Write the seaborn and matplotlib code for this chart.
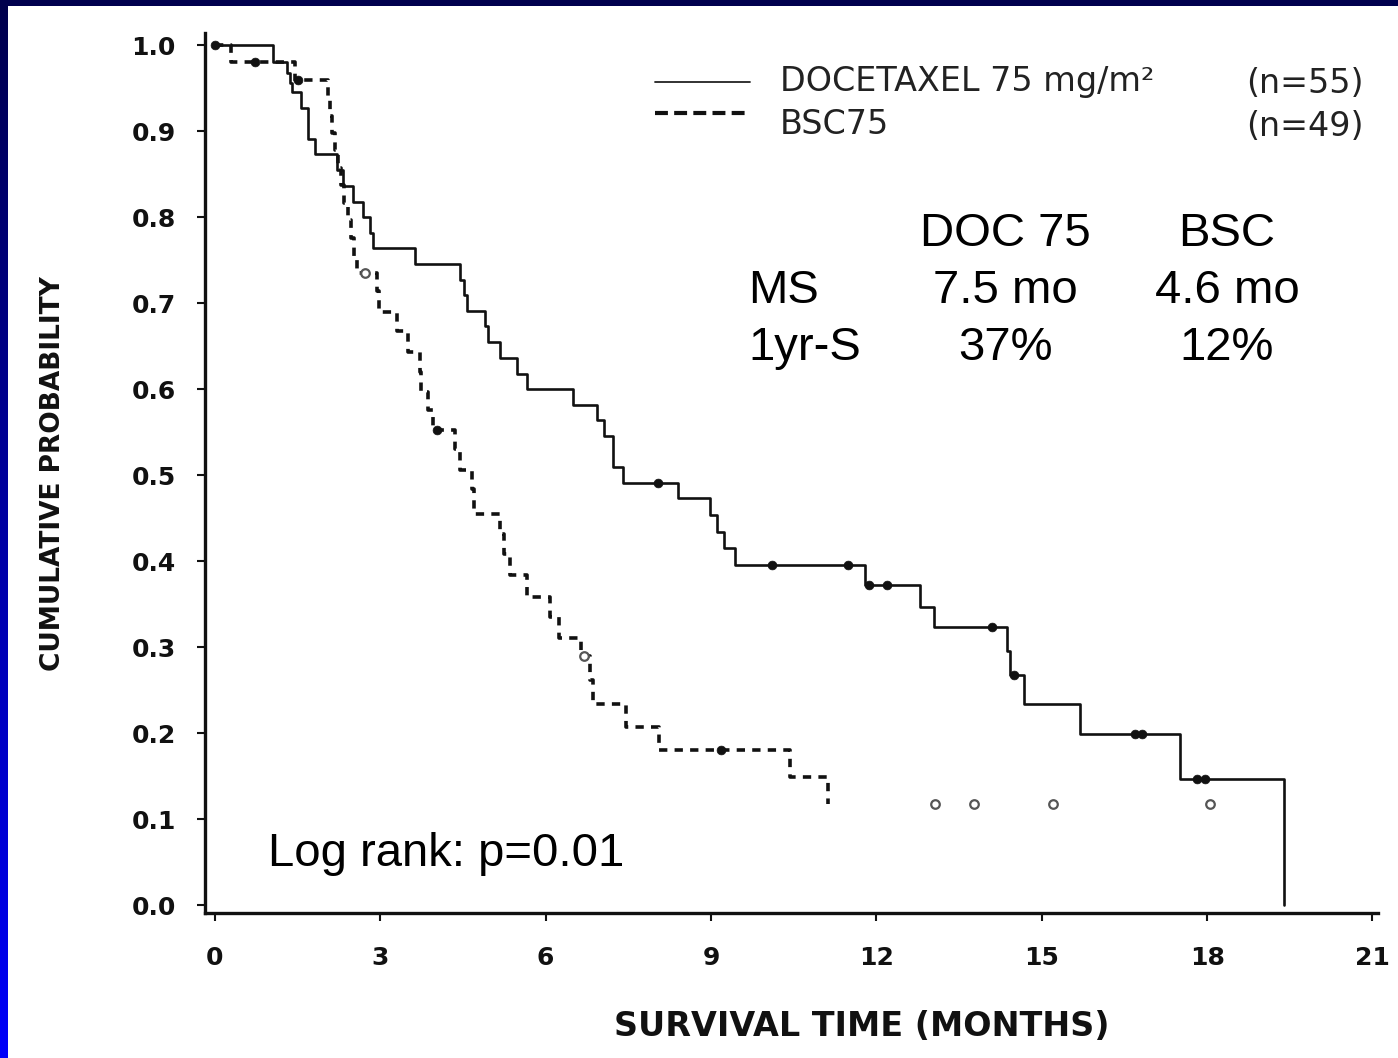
import numpy as np
import pandas as pd
import matplotlib
matplotlib.use("Agg")
import matplotlib.pyplot as plt
from matplotlib.lines import Line2D
from matplotlib.patches import Rectangle
import seaborn as sns

# ---------------- data ----------------
doc_time = [0, 1.06, 1.30, 1.36, 1.39, 1.57, 1.69, 1.81, 2.21, 2.33, 2.51, 2.69, 2.81, 2.87,
            3.63, 4.45, 4.51, 4.57, 4.90, 4.96, 5.17, 5.48, 5.66, 6.50, 6.93, 7.05, 7.23, 7.41,
            8.41, 8.98, 9.11, 9.23, 9.44, 11.80, 12.79, 13.04, 14.37, 14.43, 14.67, 15.70,
            17.51, 19.39]
doc_surv = [1.0, 0.980, 0.967, 0.956, 0.945, 0.927, 0.891, 0.873, 0.855, 0.836, 0.818, 0.800,
            0.782, 0.764, 0.745, 0.727, 0.709, 0.691, 0.673, 0.655, 0.636, 0.618, 0.600, 0.582,
            0.564, 0.545, 0.509, 0.491, 0.473, 0.453, 0.434, 0.415, 0.395, 0.372, 0.347, 0.323,
            0.295, 0.267, 0.234, 0.199, 0.147, 0.0]
doc_cens_time = [0.0, 8.04, 10.10, 11.49, 11.86, 12.19, 14.10, 14.49, 16.70, 16.82, 17.82, 17.97]
doc_cens_surv = [1.0, 0.491, 0.395, 0.395, 0.372, 0.372, 0.323, 0.267, 0.199, 0.199, 0.147, 0.147]

bsc_time = [0, 0.30, 1.45, 2.05, 2.09, 2.13, 2.18, 2.23, 2.29, 2.35, 2.41, 2.47, 2.53, 2.58,
            2.94, 2.98, 3.30, 3.51, 3.72, 3.74, 3.87, 3.96, 4.36, 4.45, 4.66, 4.70, 5.17, 5.24,
            5.35, 5.66, 6.08, 6.25, 6.65, 6.80, 6.85, 7.45, 8.05, 10.44, 11.13]
bsc_surv = [1.0, 0.980, 0.959, 0.939, 0.918, 0.898, 0.878, 0.857, 0.837, 0.816, 0.796, 0.776,
            0.755, 0.735, 0.714, 0.690, 0.667, 0.643, 0.620, 0.597, 0.576, 0.552, 0.530, 0.506,
            0.484, 0.455, 0.431, 0.408, 0.384, 0.358, 0.335, 0.310, 0.289, 0.262, 0.234, 0.207,
            0.180, 0.149, 0.118]
bsc_cens_time = [0.73, 1.50, 4.02, 9.19]
bsc_cens_surv = [0.980, 0.959, 0.552, 0.180]
bsc_open_time = [2.72, 6.70, 13.07, 13.77, 15.20, 18.05]
bsc_open_surv = [0.735, 0.289, 0.118, 0.118, 0.118, 0.118]

x_ticks = [0, 3, 6, 9, 12, 15, 18, 21]
y_ticks = [0.0, 0.1, 0.2, 0.3, 0.4, 0.5, 0.6, 0.7, 0.8, 0.9, 1.0]

legend_labels = ["DOCETAXEL 75 mg/m\u00b2", "BSC75"]
legend_counts = ["(n=55)", "(n=49)"]
stat_cols = ["DOC 75", "BSC"]
stat_rows = ["MS", "1yr-S"]
stat_vals = [["7.5 mo", "4.6 mo"], ["37%", "12%"]]
logrank_text = "Log rank: p=0.01"
x_label = "SURVIVAL TIME (MONTHS)"
y_label = "CUMULATIVE PROBABILITY"

# ---------------- style ----------------
sns.set_style("ticks")
plt.rcParams["font.family"] = ["DejaVu Sans"]

W, H = 1398, 1058
fig = plt.figure(figsize=(W / 100, H / 100), dpi=100)
fig.patch.set_facecolor("white")


def fx(px):
    return px / W


def fy(py):
    return 1 - py / H


# slide frame: navy top strip and blue gradient left strip
fig.add_artist(Rectangle((0, fy(6)), 1, 6 / H, transform=fig.transFigure,
                         facecolor="#00004e", edgecolor="none", zorder=5))
bar_ax = fig.add_axes([0, 0, fx(8), 1])
grad = np.linspace(0, 1, 256).reshape(-1, 1)
cols = np.zeros((256, 1, 3))
cols[:, 0, 2] = 0.30 + 0.68 * grad[:, 0]
bar_ax.imshow(cols, aspect="auto", origin="upper")
bar_ax.set_axis_off()

# main axes
ax = fig.add_axes([fx(205), fy(913), (1378 - 205) / W, (913 - 33) / H])
ax.set_facecolor("white")

doc_df = pd.DataFrame({"t": doc_time, "s": doc_surv})
bsc_df = pd.DataFrame({"t": bsc_time, "s": bsc_surv})

sns.lineplot(data=doc_df, x="t", y="s", ax=ax, estimator=None, sort=False,
             drawstyle="steps-post", color="#111111", linewidth=1.9, zorder=3)
sns.lineplot(data=bsc_df, x="t", y="s", ax=ax, estimator=None, sort=False,
             drawstyle="steps-post", color="#111111", linewidth=2.6,
             linestyle=(0, (2.3, 2.0)), zorder=3)

sns.scatterplot(x=doc_cens_time, y=doc_cens_surv, ax=ax, s=40, color="#111111",
                edgecolor="#111111", linewidth=0.5, zorder=4)
sns.scatterplot(x=bsc_cens_time, y=bsc_cens_surv, ax=ax, s=40, color="#111111",
                edgecolor="#111111", linewidth=0.5, zorder=4)
sns.scatterplot(x=bsc_open_time, y=bsc_open_surv, ax=ax, s=38, color="white",
                edgecolor="#555555", linewidth=1.6, zorder=4)

ax.set_xlim(-0.18, 21.1)
ax.set_ylim(-0.0093, 1.014)
ax.set_xticks(x_ticks)
ax.set_xticklabels([str(v) for v in x_ticks])
ax.set_yticks(y_ticks)
ax.set_yticklabels([f"{v:.1f}" for v in y_ticks])
ax.set_xlabel("")
ax.set_ylabel("")

for side in ["top", "right"]:
    ax.spines[side].set_visible(False)
for side in ["left", "bottom"]:
    ax.spines[side].set_linewidth(2.4)
    ax.spines[side].set_color("#111111")

ax.tick_params(axis="y", direction="out", length=6, width=1.5, pad=15,
               labelsize=18, colors="#111111")
ax.tick_params(axis="x", direction="out", length=6, width=1.5, pad=18,
               labelsize=18, colors="#111111")
for lab in ax.get_xticklabels() + ax.get_yticklabels():
    lab.set_fontweight("bold")

# axis titles
fig.text(fx(862), fy(1026), x_label, ha="center", va="center",
         fontsize=24, fontweight="bold", color="#111111")
fig.text(fx(53), fy(474), y_label, ha="center", va="center", rotation=90,
         fontsize=19, fontweight="bold", color="#111111")

# legend (drawn as in the original scan)
fig.add_artist(Line2D([fx(655), fx(750)], [fy(82), fy(82)], transform=fig.transFigure,
                      color="#222222", linewidth=1.3))
fig.add_artist(Line2D([fx(655), fx(750)], [fy(113), fy(113)], transform=fig.transFigure,
                      color="#111111", linewidth=3.0, linestyle=(0, (3.1, 1.5))))
leg_baselines = [91, 134]
for lab, cnt, yb in zip(legend_labels, legend_counts, leg_baselines):
    fig.text(fx(780), fy(yb), lab, ha="left", va="baseline", fontsize=24, color="#222222")
    fig.text(fx(1364), fy(yb + 2), cnt, ha="right", va="baseline", fontsize=24,
             color="#222222")

# statistics block (slide overlay text)
ov = dict(family=["Liberation Sans", "DejaVu Sans"], fontsize=34, color="black")
col_x = [1005, 1227]
row_base = [303, 360]
for c, xc in zip(stat_cols, col_x):
    fig.text(fx(xc), fy(246), c, ha="center", va="baseline", **ov)
for r, yb, vals in zip(stat_rows, row_base, stat_vals):
    fig.text(fx(748), fy(yb), r, ha="left", va="baseline", **ov)
    for v, xc in zip(vals, col_x):
        fig.text(fx(xc), fy(yb), v, ha="center", va="baseline", **ov)

fig.text(fx(268), fy(866), logrank_text, ha="left", va="baseline", **ov)

fig.savefig("out.png", dpi=100, facecolor="white")
